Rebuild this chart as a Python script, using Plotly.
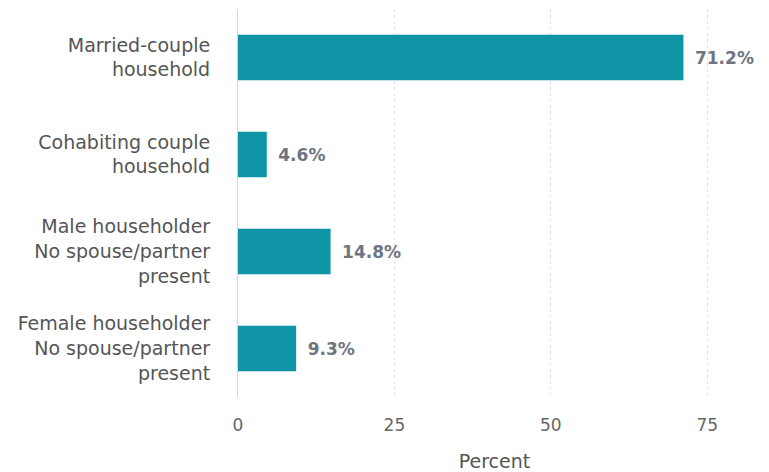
import plotly.graph_objects as go

categories = [
    "Married-couple<br>household",
    "Cohabiting couple<br>household",
    "Male householder<br>No spouse/partner<br>present",
    "Female householder<br>No spouse/partner<br>present",
]
values = [71.2, 4.6, 14.8, 9.3]
labels = ["\u200271.2%", "\u20024.6%", "\u200214.8%", "\u20029.3%"]
tick_vals = [0, 25, 50, 75]

fig = go.Figure(go.Bar(
    x=values, y=categories, orientation="h",
    marker=dict(color="#0f94a6", line=dict(width=0)),
    text=labels, textposition="outside", cliponaxis=False,
    textfont=dict(family="DejaVu Sans", size=17, color="#6e7581", weight="bold"),
))
fig.update_layout(
    width=761, height=464,
    margin=dict(l=230, r=18, t=1, b=75),
    paper_bgcolor="white", plot_bgcolor="white",
    bargap=0.53, showlegend=False,
    font=dict(family="DejaVu Sans", size=19, color="#555555"),
)
fig.update_yaxes(autorange="reversed", showline=True, linecolor="#ccd6eb", linewidth=1,
                 ticks="", showgrid=False, automargin=False, ticklabelstandoff=23,
                 tickfont=dict(size=19, color="#555555"))
fig.update_xaxes(range=[0, 82], tickvals=tick_vals, showgrid=True, gridcolor="#e2e2e2",
                 griddash="dot", gridwidth=1, zeroline=False, showline=False, automargin=False,
                 ticklabelstandoff=16,
                 title=dict(text="Percent", font=dict(size=19, color="#555555"), standoff=21),
                 tickfont=dict(size=17, color="#666666"), ticklen=0)
fig.write_html("out.html")
